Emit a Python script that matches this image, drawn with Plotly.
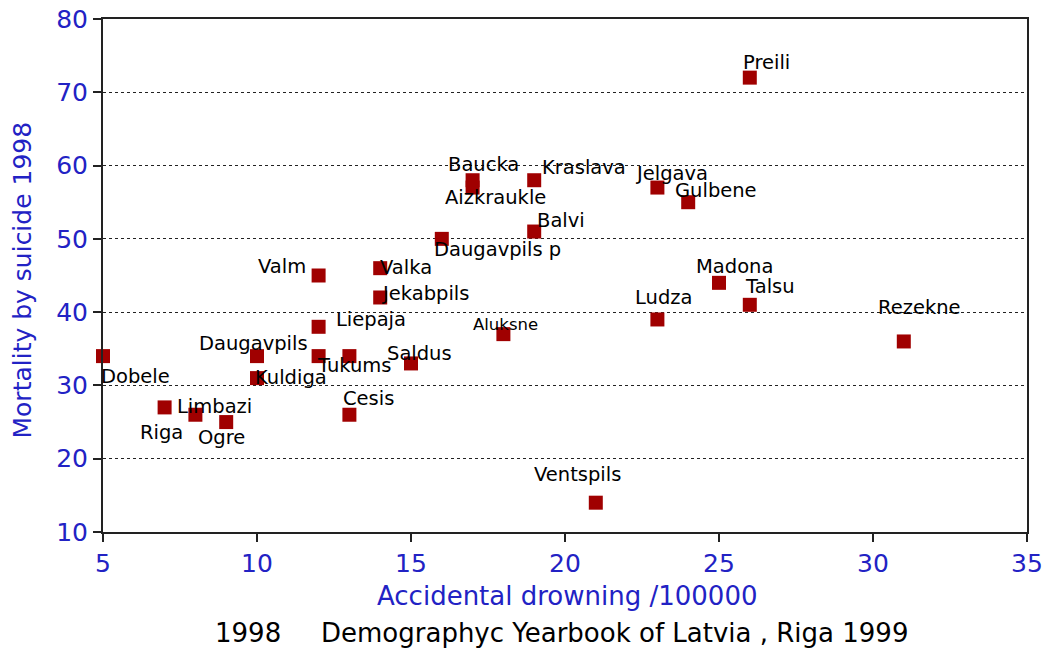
import plotly.graph_objects as go

# Data: region, accidental drowning /100000, mortality by suicide 1998
regions = ["Dobele", "Limbazi", "Riga", "Ogre", "Daugavpils", "Kuldiga", "Valm",
           "Liepaja", "", "Tukums", "Cesis", "Valka", "Jekabpils", "Saldus",
           "Daugavpils p", "Baucka", "Aizkraukle", "Aluksne", "Kraslava", "Balvi",
           "Ventspils", "Jelgava", "Ludza", "Gulbene", "Madona", "Talsu", "Preili",
           "Rezekne"]
drowning = [5, 7, 8, 9, 10, 10, 12, 12, 12, 13, 13, 14, 14, 15, 16, 17, 17, 18, 19, 19,
            21, 23, 23, 24, 25, 26, 26, 31]
suicide = [34, 27, 26, 25, 34, 31, 45, 38, 34, 34, 26, 46, 42, 33, 50, 58, 57, 37, 58, 51,
           14, 57, 39, 55, 44, 41, 72, 36]

x_ticks = [5, 10, 15, 20, 25, 30, 35]
y_ticks = [10, 20, 30, 40, 50, 60, 70, 80]

# label placement (pixel offsets of label centre from marker, styling only)
label_offsets = {
    "Dobele": (32, -20), "Limbazi": (50, 1), "Riga": (-34, -18), "Ogre": (-5, -15),
    "Daugavpils": (-4, 13), "Kuldiga": (34, 1), "Valm": (-37, 9), "Liepaja": (52, 7),
    "Tukums": (5, -9), "Cesis": (19, 16), "Valka": (26, 1), "Jekabpils": (45, 4),
    "Saldus": (8, 10), "Daugavpils p": (56, -11), "Baucka": (11, 16),
    "Aizkraukle": (23, -10), "Aluksne": (2, 10), "Kraslava": (50, 13), "Balvi": (27, 11),
    "Ventspils": (-18, 28), "Jelgava": (14, 14), "Ludza": (6, 22), "Gulbene": (28, 12),
    "Madona": (15, 16), "Talsu": (20, 18), "Preili": (17, 15), "Rezekne": (16, 34),
}

FONT = "DejaVu Sans"
BLUE = "#2222c4"

fig = go.Figure()
fig.add_trace(go.Scatter(
    x=drowning, y=suicide, mode="markers", cliponaxis=False,
    marker=dict(symbol="square", size=14, color="#a00000", line=dict(width=0)),
    hoverinfo="skip", showlegend=False,
))

annotations = []
for name, xv, yv in zip(regions, drowning, suicide):
    if not name:
        continue
    dx, dy = label_offsets.get(name, (0, 14))
    annotations.append(dict(
        x=xv, y=yv, xref="x", yref="y", text=name, showarrow=False,
        xanchor="center", yanchor="middle", xshift=dx, yshift=dy,
        font=dict(family=FONT, size=16.5 if name == "Aluksne" else 19.5, color="black"),
    ))

# axis titles and footer
annotations.append(dict(
    text="Accidental drowning /100000", xref="paper", yref="paper", x=0.5, y=0,
    xanchor="center", yanchor="middle", yshift=-64, xshift=2, showarrow=False,
    font=dict(family=FONT, size=26, color=BLUE),
))
annotations.append(dict(
    text="Mortality by suicide 1998", xref="paper", yref="paper", x=0, y=0.5,
    xanchor="center", yanchor="middle", xshift=-81, yshift=-5, textangle=-90,
    showarrow=False, font=dict(family=FONT, size=25, color=BLUE),
))
annotations.append(dict(
    text="1998", xref="paper", yref="paper", x=(213 - 103) / 924, y=0,
    xanchor="left", yanchor="middle", yshift=-101, showarrow=False,
    font=dict(family=FONT, size=26, color="black"),
))
annotations.append(dict(
    text="Demographyc Yearbook of Latvia , Riga 1999", xref="paper", yref="paper",
    x=(319 - 103) / 924, y=0, xanchor="left", yanchor="middle", yshift=-101,
    showarrow=False, font=dict(family=FONT, size=26, color="black"),
))

fig.update_layout(
    width=1044, height=650,
    margin=dict(l=103, r=17, t=19, b=118, autoexpand=False),
    paper_bgcolor="white", plot_bgcolor="white",
    annotations=annotations,
    font=dict(family=FONT),
)
fig.update_xaxes(
    range=[5, 35], tickvals=x_ticks, ticktext=[str(v) for v in x_ticks],
    showgrid=False, zeroline=False, automargin=False,
    showline=True, linecolor="#222222", linewidth=2, mirror=True,
    ticks="outside", ticklen=8, tickwidth=2, tickcolor="#222222",
    tickfont=dict(family=FONT, size=25, color=BLUE),
)
fig.update_yaxes(
    range=[10, 80], tickvals=y_ticks, ticktext=[str(v) for v in y_ticks],
    showgrid=True, gridcolor="#222222", gridwidth=1, griddash="3px,3px",
    zeroline=False, automargin=False,
    showline=True, linecolor="#222222", linewidth=2, mirror=True,
    ticks="outside", ticklen=8, tickwidth=2, tickcolor="#222222",
    tickfont=dict(family=FONT, size=25, color=BLUE),
)

# remove the default page margin so the 1044x650 figure fills the window exactly
fig.write_html(
    "out.html",
    config={"displayModeBar": False},
    post_script="document.body.style.margin='0';document.body.style.overflow='hidden';",
)
